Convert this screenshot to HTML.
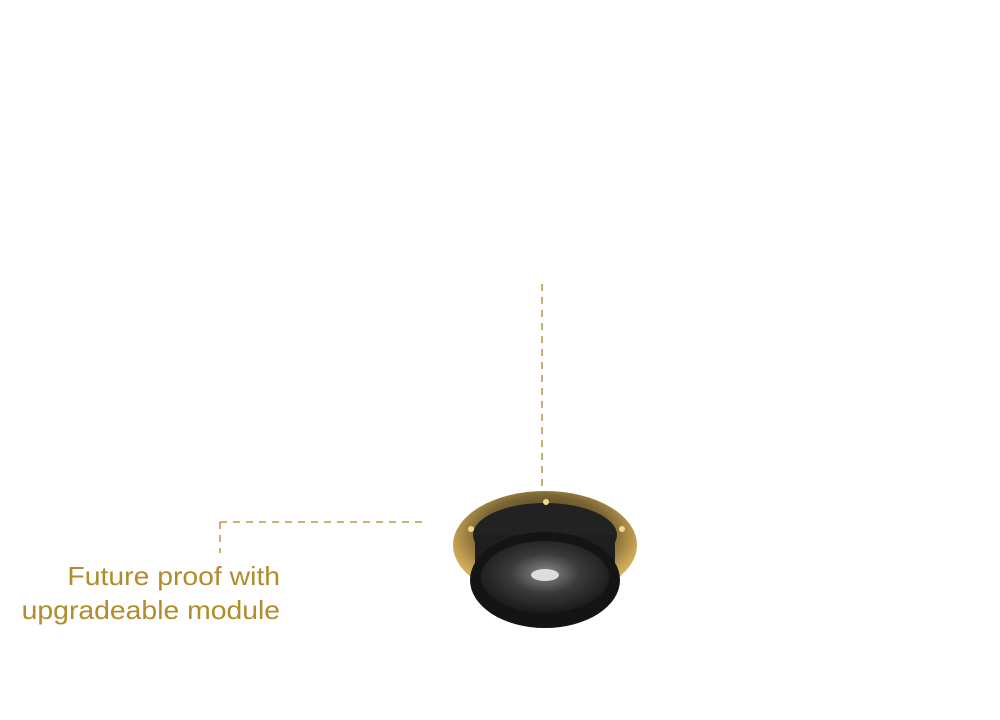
<!DOCTYPE html>
<html><head><style>
html,body{margin:0;padding:0;background:#fff;width:1000px;height:720px;overflow:hidden}
.t{position:absolute;right:720px;top:559px;font-family:"Liberation Sans",sans-serif;font-size:26px;line-height:34px;color:#b08d2a;text-align:right;white-space:nowrap;transform:scaleX(1.09);transform-origin:right top}
</style></head><body>
<svg width="1000" height="720" style="position:absolute;left:0;top:0">
<g stroke="#a8862a" stroke-width="1.3" stroke-dasharray="7,6" fill="none">
<line x1="542" y1="284" x2="542" y2="490"/>
<line x1="220" y1="522" x2="426" y2="522"/>
<line x1="220" y1="522" x2="220" y2="553"/>
</g>
<defs>
<radialGradient id="fl" cx="0.5" cy="0.4" r="0.6"><stop offset="0" stop-color="#2a2518"/><stop offset="0.6" stop-color="#7a6535"/><stop offset="0.85" stop-color="#c9a553"/><stop offset="1" stop-color="#e0c070"/></radialGradient>
<radialGradient id="ln" cx="0.5" cy="0.45" r="0.55"><stop offset="0" stop-color="#8a8a8a"/><stop offset="0.5" stop-color="#3a3a3a"/><stop offset="1" stop-color="#1a1a1a"/></radialGradient>
</defs>
<ellipse cx="545" cy="545" rx="92" ry="54" fill="url(#fl)"/>
<ellipse cx="545" cy="535" rx="72" ry="32" fill="#222"/>
<rect x="475" y="535" width="140" height="45" fill="#1e1e1e"/>
<ellipse cx="545" cy="580" rx="75" ry="48" fill="#141414"/>
<ellipse cx="545" cy="577" rx="64" ry="36" fill="url(#ln)"/>
<ellipse cx="545" cy="575" rx="14" ry="6" fill="#ddd"/>
<circle cx="546" cy="502" r="3" fill="#f0d890"/>
<circle cx="471" cy="529" r="3" fill="#f0d890"/>
<circle cx="622" cy="529" r="3" fill="#f0d890"/>
</svg>
<div class="t">Future proof with<br>upgradeable module</div>
</body></html>
